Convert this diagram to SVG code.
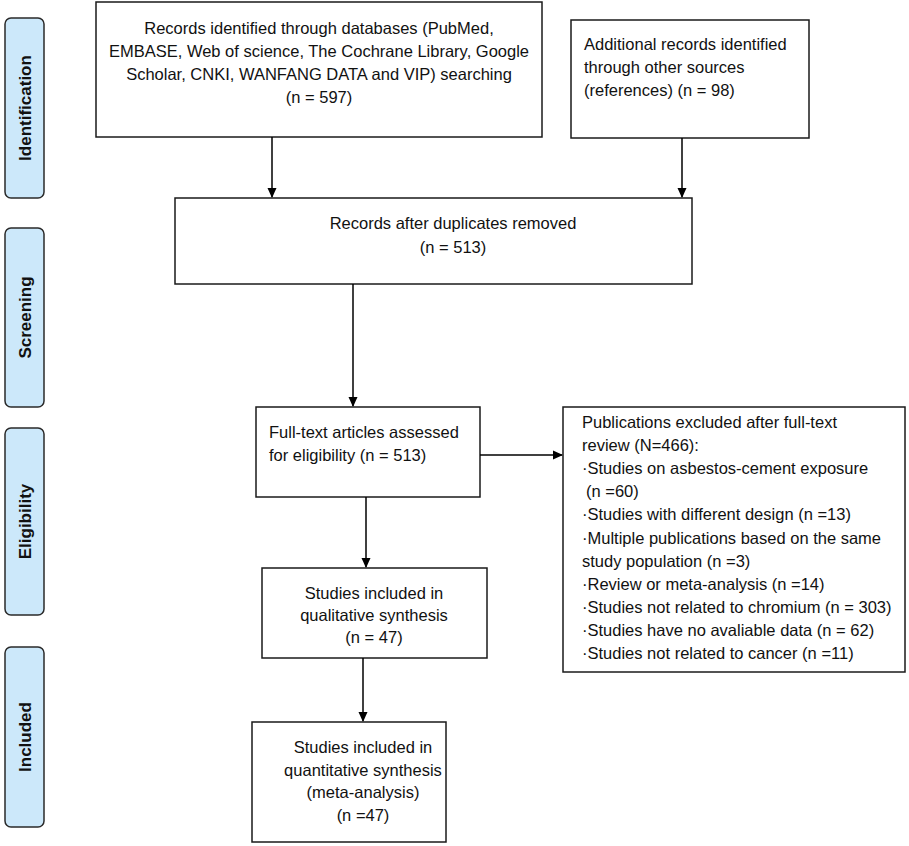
<svg xmlns="http://www.w3.org/2000/svg" width="909" height="846" viewBox="0 0 909 846">
<defs>
<style>
.box{fill:#fff;stroke:#1a1a1a;stroke-width:1.5}
.lab{fill:#cce8fa;stroke:#2a2a2a;stroke-width:1.5}
.t{font-family:"Liberation Sans",Arial,sans-serif;font-size:16.5px;fill:#111}
.c{text-anchor:middle}
.lt{font-family:"Liberation Sans",Arial,sans-serif;font-size:17px;font-weight:bold;fill:#111;text-anchor:middle}
.ln{stroke:#000;stroke-width:1.5;fill:none}
</style>
<marker id="ah" markerWidth="10" markerHeight="10" refX="9" refY="5" orient="auto" markerUnits="userSpaceOnUse">
<path d="M0,0.5 L10,5 L0,9.5 Z" fill="#000"/>
</marker>
</defs>
<rect width="909" height="846" fill="#fff"/>

<g id="label-identification">
<rect class="lab" x="5" y="18" width="39" height="180" rx="6"/>
<text class="lt" transform="translate(30.5,108) rotate(-90)">Identification</text>
</g>
<g id="label-screening">
<rect class="lab" x="5" y="228" width="39" height="179" rx="6"/>
<text class="lt" transform="translate(30.5,317.5) rotate(-90)">Screening</text>
</g>
<g id="label-eligibility">
<rect class="lab" x="5" y="428" width="39" height="187" rx="6"/>
<text class="lt" transform="translate(30.5,521.5) rotate(-90)">Eligibility</text>
</g>
<g id="label-included">
<rect class="lab" x="5" y="647" width="39" height="180" rx="6"/>
<text class="lt" transform="translate(30.5,737) rotate(-90)">Included</text>
</g>

<g id="node-databases">
<rect class="box" x="96" y="2" width="446" height="135"/>
<text class="t c" x="319" y="34">Records identified through databases (PubMed,</text>
<text class="t c" x="319" y="57">EMBASE, Web of science, The Cochrane Library, Google</text>
<text class="t c" x="319" y="80">Scholar, CNKI, WANFANG DATA and VIP) searching</text>
<text class="t c" x="319" y="103">(n = 597)</text>
</g>

<g id="node-other">
<rect class="box" x="571" y="20" width="238" height="118"/>
<text class="t" x="584" y="50">Additional records identified</text>
<text class="t" x="584" y="73">through other sources</text>
<text class="t" x="584" y="96">(references) (n = 98)</text>
</g>

<g id="node-duplicates">
<rect class="box" x="175" y="198" width="517" height="86"/>
<text class="t c" x="453" y="229">Records after duplicates removed</text>
<text class="t c" x="453" y="253">(n = 513)</text>
</g>

<g id="node-fulltext">
<rect class="box" x="256" y="407" width="224" height="90"/>
<text class="t" x="269" y="438">Full-text articles assessed</text>
<text class="t" x="269" y="461">for eligibility (n = 513)</text>
</g>

<g id="node-excluded">
<rect class="box" x="563" y="407" width="342" height="265"/>
<text class="t" x="582" y="428">Publications excluded after full-text</text>
<text class="t" x="582" y="451">review (N=466):</text>
<text class="t" x="582" y="474">·Studies on asbestos-cement exposure</text>
<text class="t" x="586" y="497">(n =60)</text>
<text class="t" x="582" y="520">·Studies with different design (n =13)</text>
<text class="t" x="582" y="544">·Multiple publications based on the same</text>
<text class="t" x="582" y="567">study population (n =3)</text>
<text class="t" x="582" y="590">·Review or meta-analysis (n =14)</text>
<text class="t" x="582" y="613">·Studies not related to chromium (n = 303)</text>
<text class="t" x="582" y="636">·Studies have no avaliable data (n = 62)</text>
<text class="t" x="582" y="659">·Studies not related to cancer (n =11)</text>
</g>

<g id="node-qualitative">
<rect class="box" x="262" y="568" width="225" height="90"/>
<text class="t c" x="374" y="599">Studies included in</text>
<text class="t c" x="374" y="621">qualitative synthesis</text>
<text class="t c" x="374" y="643">(n = 47)</text>
</g>

<g id="node-quantitative">
<rect class="box" x="252" y="722" width="194" height="120"/>
<text class="t c" x="363" y="753">Studies included in</text>
<text class="t c" x="363" y="776">quantitative synthesis</text>
<text class="t c" x="363" y="798">(meta-analysis)</text>
<text class="t c" x="363" y="821">(n =47)</text>
</g>

<g id="connectors">
<line class="ln" x1="272" y1="137" x2="272" y2="197" marker-end="url(#ah)"/>
<line class="ln" x1="682" y1="138" x2="682" y2="197" marker-end="url(#ah)"/>
<line class="ln" x1="353" y1="284" x2="353" y2="406" marker-end="url(#ah)"/>
<line class="ln" x1="366" y1="497" x2="366" y2="567" marker-end="url(#ah)"/>
<line class="ln" x1="480" y1="455" x2="562" y2="455" marker-end="url(#ah)"/>
<line class="ln" x1="363" y1="658" x2="363" y2="721" marker-end="url(#ah)"/>
</g>
</svg>
